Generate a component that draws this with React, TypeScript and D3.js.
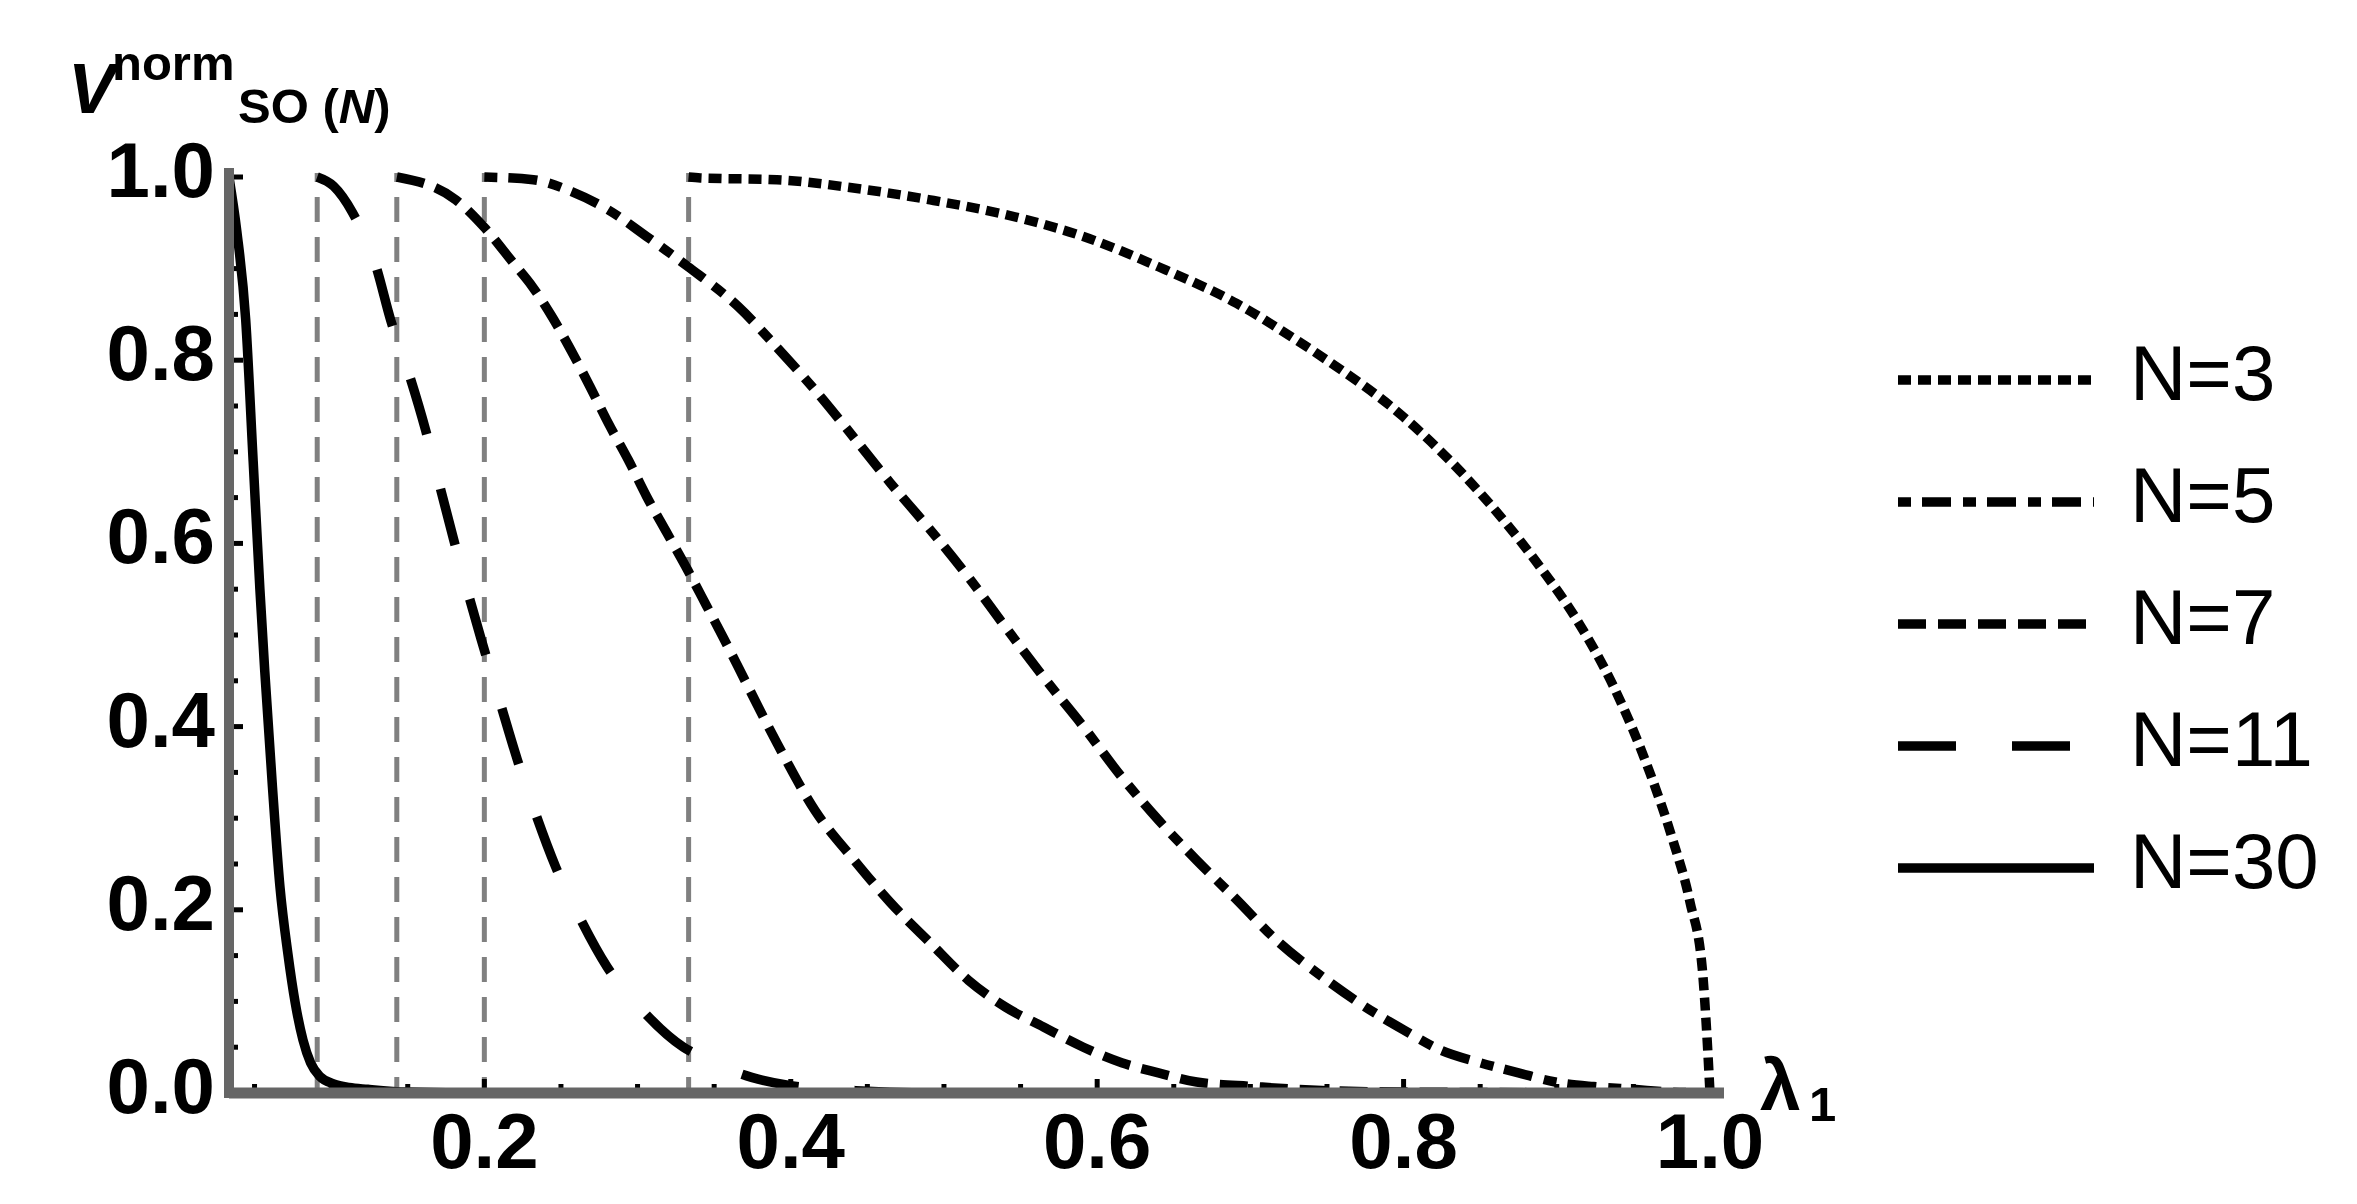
import * as React from "react"
import * as d3 from "d3"

const WIDTH = 2357
const HEIGHT = 1204

// values: lambda_1 and normalised volume, one pair of arrays per N
const n3Lambda = [0.3333, 0.341, 0.391, 0.441, 0.491, 0.54, 0.591, 0.64, 0.691, 0.73, 0.75, 0.8, 0.85, 0.887, 0.914, 0.937, 0.96, 0.975, 0.987, 0.995, 0.998, 1.0]
const n3Volume = [1, 0.999, 0.997, 0.988, 0.975, 0.959, 0.935, 0.902, 0.862, 0.822, 0.8, 0.738, 0.655, 0.579, 0.514, 0.444, 0.353, 0.28, 0.208, 0.135, 0.062, 0]

const n5Lambda = [0.2, 0.232, 0.257, 0.281, 0.306, 0.333, 0.366, 0.391, 0.416, 0.441, 0.465, 0.491, 0.516, 0.54, 0.565, 0.591, 0.616, 0.64, 0.665, 0.691, 0.715, 0.75, 0.775, 0.8, 0.824, 0.85, 0.875, 0.899, 0.924, 0.95, 0.975, 1.0]
const n5Volume = [1, 0.997, 0.984, 0.964, 0.935, 0.902, 0.858, 0.814, 0.767, 0.716, 0.666, 0.615, 0.563, 0.509, 0.454, 0.4, 0.345, 0.298, 0.254, 0.211, 0.17, 0.123, 0.094, 0.069, 0.047, 0.033, 0.022, 0.012, 0.007, 0.004, 0.001, 0]

const n7Lambda = [0.1429, 0.1815, 0.2, 0.219, 0.2315, 0.244, 0.2565, 0.269, 0.281, 0.294, 0.306, 0.319, 0.333, 0.345, 0.356, 0.366, 0.391, 0.416, 0.441, 0.465, 0.491, 0.516, 0.54, 0.565, 0.591, 0.616, 0.64, 0.665, 0.703, 0.73, 0.8, 1.0]
const n7Volume = [1, 0.975, 0.945, 0.906, 0.88, 0.848, 0.811, 0.771, 0.731, 0.691, 0.651, 0.612, 0.57, 0.532, 0.497, 0.464, 0.382, 0.308, 0.255, 0.208, 0.164, 0.123, 0.094, 0.072, 0.05, 0.033, 0.022, 0.012, 0.007, 0.004, 0.001, 0]

const n11Lambda = [0.0909, 0.1016, 0.114, 0.129, 0.139, 0.151, 0.1616, 0.1704, 0.18, 0.189, 0.198, 0.21, 0.2215, 0.233, 0.2465, 0.2615, 0.28, 0.3027, 0.33, 0.341, 0.3745, 0.4, 0.45, 0.5, 1.0]
const n11Volume = [1, 0.99, 0.961, 0.904, 0.843, 0.784, 0.724, 0.666, 0.604, 0.548, 0.495, 0.428, 0.364, 0.307, 0.247, 0.194, 0.138, 0.091, 0.05, 0.04, 0.017, 0.008, 0.002, 0, 0]

const n30Lambda = [0.0333, 0.0385, 0.0442, 0.0491, 0.0535, 0.0567, 0.0617, 0.0666, 0.0717, 0.0766, 0.0816, 0.0866, 0.0927, 0.1016, 0.1116, 0.124, 0.15, 0.2, 1.0]
const n30Volume = [1, 0.94, 0.845, 0.69, 0.55, 0.46, 0.334, 0.225, 0.153, 0.098, 0.058, 0.033, 0.018, 0.01, 0.006, 0.004, 0.001, 0, 0]

const seriesLabels = ["N=3", "N=5", "N=7", "N=11", "N=30"]
const thresholds = [1 / 11, 1 / 7, 1 / 5, 1 / 3]
const xTickLabels = [0.2, 0.4, 0.6, 0.8, 1.0]
const yTickLabels = [0.0, 0.2, 0.4, 0.6, 0.8, 1.0]

const FONT = "'Liberation Sans', Arial, sans-serif"

export default function App() {
  const x = d3.scaleLinear().domain([1 / 30, 1]).range([229, 1710])
  const y = d3.scaleLinear().domain([0, 1]).range([1093, 177])

  const line = d3
    .line<[number, number]>()
    .x((d) => x(d[0]))
    .y((d) => y(d[1]))
    .curve(d3.curveMonotoneX)

  // dash patterns match the legend swatches
  const series = [
    { label: seriesLabels[0], pts: d3.zip(n3Lambda, n3Volume), dash: "13,7" },
    { label: seriesLabels[1], pts: d3.zip(n5Lambda, n5Volume), dash: "13,11,29,12" },
    { label: seriesLabels[2], pts: d3.zip(n7Lambda, n7Volume), dash: "28,12" },
    { label: seriesLabels[3], pts: d3.zip(n11Lambda, n11Volume), dash: "58,56" },
    { label: seriesLabels[4], pts: d3.zip(n30Lambda, n30Volume), dash: "none" },
  ]

  const minorX = d3.range(0.05, 1.0001, 0.05)
  const minorY = d3.range(0, 1.0001, 0.05)
  const isMajor = (v: number) => Math.abs(v / 0.2 - Math.round(v / 0.2)) < 1e-6

  const x0 = x(1 / 30)
  const yBase = y(0)

  return (
    <svg
      width={WIDTH}
      height={HEIGHT}
      viewBox={`0 0 ${WIDTH} ${HEIGHT}`}
      style={{ position: "absolute", left: 0, top: 0, background: "#fff" }}
    >
      <rect width={WIDTH} height={HEIGHT} fill="#fff" />

      {/* thresholds lambda = 1/N */}
      {thresholds.map((t) => (
        <line
          key={t}
          x1={x(t)}
          x2={x(t)}
          y1={y(1) - 4}
          y2={yBase}
          stroke="#808080"
          strokeWidth={5}
          strokeDasharray="25,15"
          strokeDashoffset={16}
        />
      ))}

      {/* curves */}
      {series.map((s) => (
        <path
          key={s.label}
          d={line(s.pts as [number, number][]) || ""}
          fill="none"
          stroke="#000"
          strokeWidth={9.5}
          strokeDasharray={s.dash}
        />
      ))}

      {/* ticks, pointing into the plot */}
      {minorX.map((v) => (
        <line
          key={"xt" + v}
          x1={x(v)}
          x2={x(v)}
          y1={yBase}
          y2={yBase - 5 - (isMajor(v) ? 9 : 4)}
          stroke="#000"
          strokeWidth={5}
        />
      ))}
      {minorY.map((v) => (
        <line
          key={"yt" + v}
          x1={x0}
          x2={x0 + 5 + (isMajor(v) ? 9 : 4)}
          y1={y(v)}
          y2={y(v)}
          stroke="#000"
          strokeWidth={5}
        />
      ))}

      {/* axes */}
      <line x1={x0} x2={x(1) + 14} y1={yBase} y2={yBase} stroke="#666" strokeWidth={11} />
      <line x1={x0} x2={x0} y1={yBase + 5} y2={y(1) - 9} stroke="#666" strokeWidth={10} />

      {/* tick labels */}
      <g fontFamily={FONT} fontWeight="bold" fontSize={78} fill="#000">
        {xTickLabels.map((v) => (
          <text key={"xl" + v} x={x(v)} y={1168} textAnchor="middle">
            {v.toFixed(1)}
          </text>
        ))}
        {yTickLabels.map((v) => (
          <text key={"yl" + v} x={215} y={y(v) + 20} textAnchor="end">
            {v.toFixed(1)}
          </text>
        ))}
      </g>

      {/* axis labels */}
      <g fontFamily={FONT} fontWeight="bold" fill="#000">
        <text x={68} y={113} fontSize={71} fontStyle="italic">V</text>
        <text x={112} y={80} fontSize={49}>norm</text>
        <text x={238} y={123} fontSize={49}>
          SO (<tspan fontStyle="italic">N</tspan>)
        </text>
        <text x={1760} y={1110} fontSize={73}>λ</text>
        <text x={1809} y={1121} fontSize={49}>1</text>
      </g>

      {/* legend */}
      <g fontFamily={FONT} fontSize={78} fill="#000">
        {series.map((s, i) => {
          const ry = 380 + i * 122
          return (
            <g key={"lg" + s.label}>
              <line x1={1898} x2={2094} y1={ry} y2={ry} stroke="#000" strokeWidth={9.5} strokeDasharray={s.dash} />
              <text x={2130} y={ry + 20}>{s.label}</text>
            </g>
          )
        })}
      </g>
    </svg>
  )
}
